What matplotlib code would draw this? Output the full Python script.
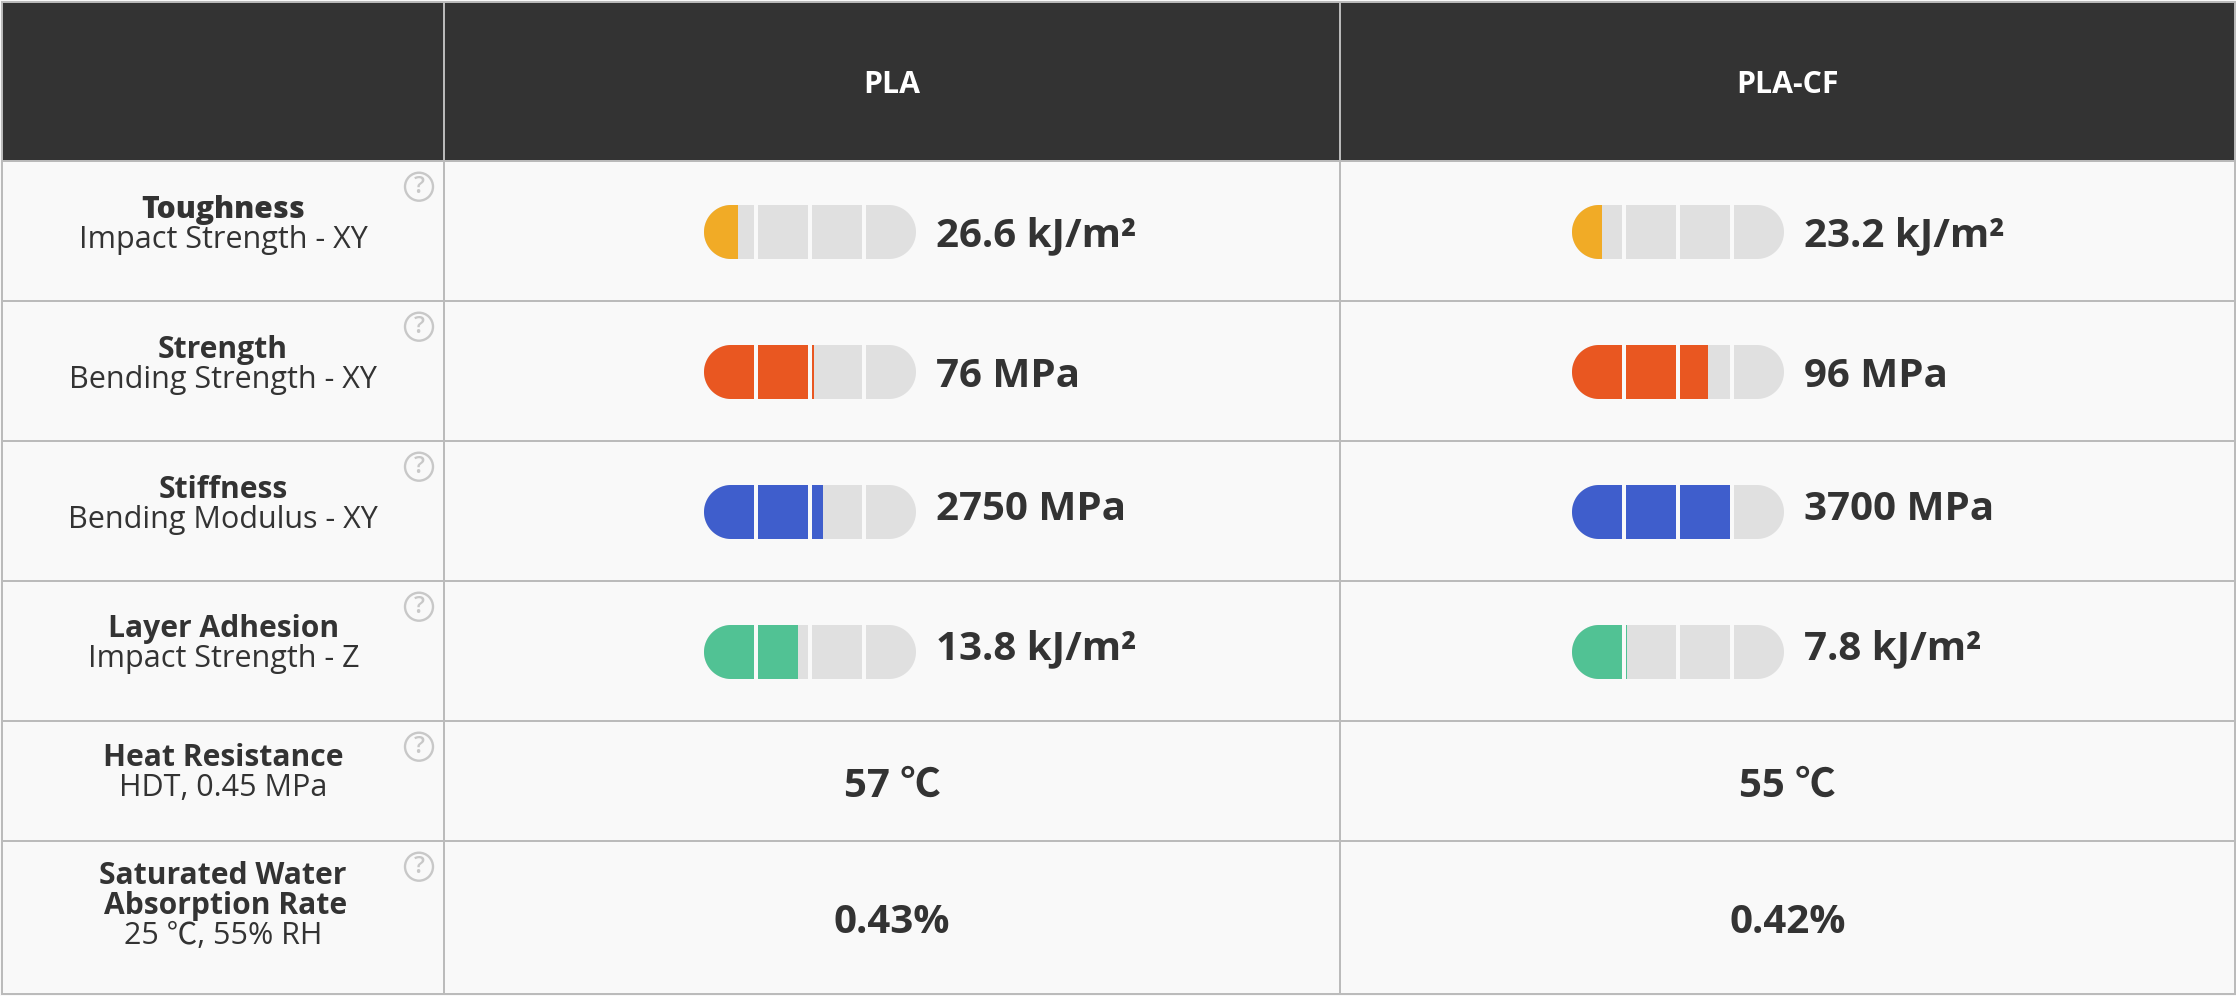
import numpy as np
import matplotlib
matplotlib.use("Agg")
import matplotlib.pyplot as plt
from matplotlib.patches import Circle, Rectangle, Polygon

W, H = 2236, 996

materials = ["PLA", "PLA-CF"]
row_titles = ["Toughness", "Strength", "Stiffness", "Layer Adhesion",
              "Heat Resistance", "Saturated Water\nAbsorption Rate"]
row_subtitles = ["Impact Strength - XY", "Bending Strength - XY", "Bending Modulus - XY",
                 "Impact Strength - Z", "HDT, 0.45 MPa", "25 ℃, 55% RH"]
pla_values = [26.6, 76, 2750, 13.8]
cf_values = [23.2, 96, 3700, 7.8]
units = ["kJ/m²", "MPa", "MPa", "kJ/m²"]
per_segment = [39.0, 37.4, 1235.0, 7.65]
bar_colors = ["#F1AB26", "#E95721", "#3F5ECC", "#51C294"]
pla_plain = ["57 ℃", "0.43%"]
cf_plain = ["55 ℃", "0.42%"]

row_edges = [2, 162, 302, 442, 582, 722, 842, 995]
col_edges = [2, 444, 1340, 2235]
bar_starts = [704, 1572]
title_offsets = [48, 48, 48, 47, 36, 34]
title_weights = [800, "bold", "bold", "bold", "bold", "bold"]
title_dx = [0, 0, 0, 1, 0, 0]
value_nudge = [4, 4, -3, -3]

BG, HEAD, LINE, INK, TRACK, ICON = "#F9F9F9", "#333333", "#BBBBBB", "#333333", "#E0E0E0", "#C8C8C8"
SEG, GAP, BAR_H = 50, 4, 54
LW = 1.43
LINE_SHIFT = -1
FONT = ["Open Sans", "Noto Sans CJK SC", "DejaVu Sans"]
plt.rcParams["font.family"] = FONT

fig = plt.figure(figsize=(W / 100, H / 100), dpi=100, facecolor=BG)
ax = fig.add_axes([0, 0, 1, 1])
ax.set_xlim(0, W)
ax.set_ylim(H, 0)
ax.axis("off")

ax.add_patch(Rectangle((col_edges[0], row_edges[0]), col_edges[-1] - col_edges[0],
                       row_edges[1] - row_edges[0], fc=HEAD, ec="none", zorder=1))
for k, y in enumerate(row_edges):
    yy = y if k == 0 else y + LINE_SHIFT
    ax.plot([col_edges[0], col_edges[-1]], [yy, yy], color=LINE, lw=LW,
            zorder=2, solid_capstyle="projecting")
for x in col_edges:
    ax.plot([x, x], [row_edges[0], row_edges[-1] + LINE_SHIFT], color=LINE, lw=LW,
            zorder=2, solid_capstyle="projecting")

for i, name in enumerate(materials):
    ax.text((col_edges[i + 1] + col_edges[i + 2]) / 2, (row_edges[0] + row_edges[1]) / 2 + 3, name,
            color="white", fontsize=21.8, fontweight="bold", ha="center", va="center", zorder=3)


def draw_bar(x0, yc, value, scale, color):
    rad = BAR_H / 2
    x1 = x0 + 4 * SEG + 3 * GAP
    t = np.linspace(np.pi / 2, 3 * np.pi / 2, 60)
    left_x, left_y = x0 + rad + rad * np.cos(t), yc + rad * np.sin(t)
    right_x, right_y = x1 - rad - rad * np.cos(t), yc - rad * np.sin(t)
    pts = np.column_stack([np.r_[left_x, right_x], np.r_[left_y, right_y]])
    pill = Polygon(pts, closed=True, fc="none", ec="none")
    ax.add_patch(pill)
    filled = value / scale
    for s in range(4):
        left = x0 + s * (SEG + GAP)
        back = ax.barh(yc, SEG, BAR_H, left=left, color=TRACK, lw=0, zorder=3)
        frac = min(max(filled - s, 0), 1)
        front = ax.barh(yc, SEG * frac, BAR_H, left=left, color=color, lw=0, zorder=4)
        for r in list(back) + list(front):
            r.set_clip_path(pill)


for r, (title, sub) in enumerate(zip(row_titles, row_subtitles)):
    top, bot = row_edges[r + 1], row_edges[r + 2]
    yc = (top + bot) / 2
    lines = title.split("\n")
    n = len(lines)
    first = top + title_offsets[r]
    for k, line in enumerate(lines):
        dx = title_dx[r] + (3 if k == 1 else 0)
        ax.text(223 + dx, first + 30 * k, line, color=INK, fontsize=21.6, fontweight=title_weights[r],
                ha="center", va="center", zorder=5)
    ax.text(223 + title_dx[r], first + 30 * n, sub, color=INK, fontsize=22, ha="center", va="center", zorder=5)
    ax.add_patch(Circle((419, top + 24.7), 14, fc="none", ec=ICON, lw=1.7, zorder=5))
    ax.text(419, top + 24.7, "?", color=ICON, fontsize=17.5, fontweight=600, ha="center", va="center", zorder=5)

    if r < 4:
        for m, vals in enumerate((pla_values, cf_values)):
            draw_bar(bar_starts[m], yc, vals[r], per_segment[r], bar_colors[r])
            ax.text(bar_starts[m] + 232.5, yc + value_nudge[r], f"{vals[r]} {units[r]}", color=INK,
                    fontsize=29, fontweight="bold", ha="left", va="center", zorder=5)
    else:
        for m, vals in enumerate((pla_plain, cf_plain)):
            ax.text((col_edges[m + 1] + col_edges[m + 2]) / 2, yc + 4, vals[r - 4], color=INK,
                    fontsize=29, fontweight="bold", ha="center", va="center", zorder=5)

fig.savefig("out.png", dpi=100, facecolor=BG)
